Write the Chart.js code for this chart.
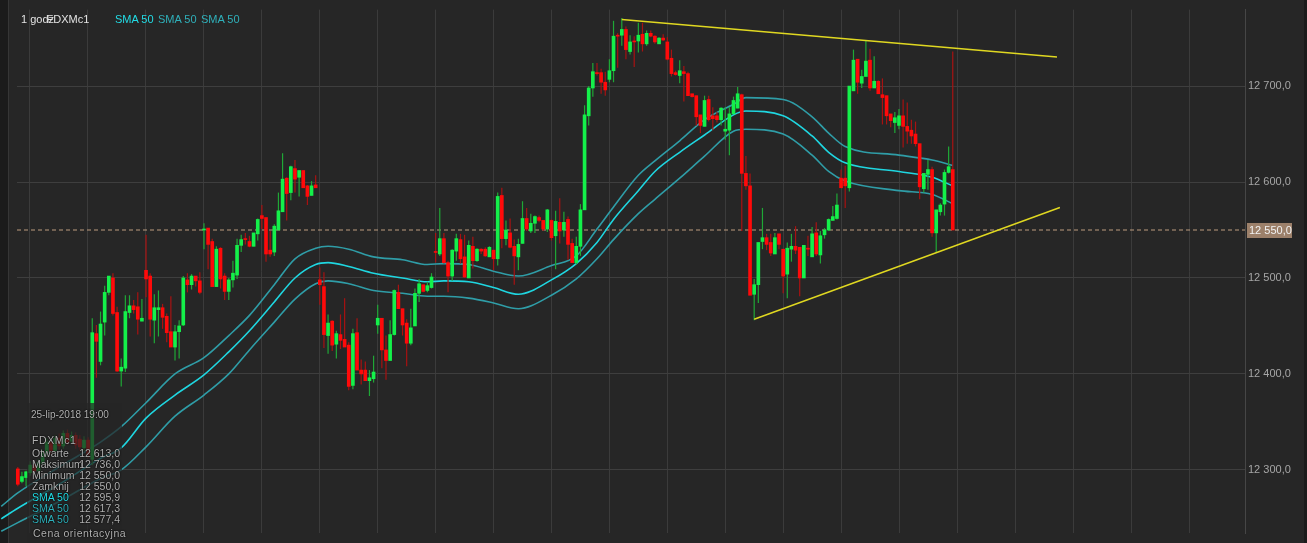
<!DOCTYPE html>
<html>
<head>
<meta charset="utf-8">
<script src="https://cdn.jsdelivr.net/npm/chart.js@4.4.1/dist/chart.umd.min.js"></script>
<style>
  html, body { margin: 0; padding: 0; background: #262626; overflow: hidden; }
  #wrap { position: relative; width: 1307px; height: 543px; background: #262626; }
  #chart { position: absolute; left: 0; top: 0; }
  .stripL { position: absolute; left: 0; top: 0; width: 8px; height: 543px; background: #1b1b1b; border-right: 1px solid #363636; }
  .stripR { position: absolute; left: 1304px; top: 0; width: 3px; height: 543px; background: #1b1b1b; }
  .txt { position: absolute; font-family: "Liberation Sans", Arial, sans-serif; font-size: 10.5px; line-height: 12px; white-space: nowrap; color: #b2b2b2; text-shadow: 0 0 2px #000, 0 0 1px #000; }
  .val { text-align: right; width: 50px; }
  #infoBox { position: absolute; left: 27px; top: 403px; width: 95px; height: 140px; background: rgba(38, 38, 38, 0.72); }
</style>
</head>
<body>
<div id="wrap">
  <div class="stripL"></div>
  <div class="stripR"></div>
  <canvas id="chart" width="1307" height="543"></canvas>
  <div id="infoBox"></div>

  <div class="txt" style="left:21px;top:13px;font-size:11px;color:#e2e2e2;text-shadow:none">1 godz</div>
  <div class="txt" style="left:46.5px;top:13px;font-size:11px;color:#e2e2e2;text-shadow:none">FDXMc1</div>
  <div class="txt" style="left:115px;top:13px;font-size:11px;color:#22dde6;text-shadow:none">SMA 50</div>
  <div class="txt" style="left:158px;top:13px;font-size:11px;color:#2fb0ba;text-shadow:none">SMA 50</div>
  <div class="txt" style="left:201px;top:13px;font-size:11px;color:#2fb0ba;text-shadow:none">SMA 50</div>

  <div class="txt" style="left:31px;top:409px;font-size:10px">25-lip-2018 19:00</div>
  <div class="txt" style="left:32px;top:434px;letter-spacing:0.6px">FDXMc1</div>
  <div id="rows"></div>
</div>

<script>
// candles, 1h bars, index 0 = first visible bar
const open = [
  12301,12288,12292,12297,12305,12299,12307,12317,12329,12320,
  12333,12325,12338,12330,12336,12332,12323,12331,12311,12442,
  12413,12454,12485,12500,12464,12403,12406,12464,12471,12470,
  12455,12508,12502,12456,12467,12469,12460,12444,12428,12444,
  12451,12498,12493,12502,12497,12550,12552,12538,12491,12531,
  12502,12486,12498,12503,12534,12541,12538,12533,12546,12565,
  12563,12529,12527,12550,12569,12604,12589,12614,12605,12612,
  12596,12586,12597,12498,12491,12440,12455,12431,12441,12436,
  12430,12388,12443,12404,12404,12393,12395,12451,12458,12425,
  12414,12441,12485,12468,12453,12432,12450,12484,12493,12487,
  12490,12527.3,12525,12541,12516,12502,12528,12540,12522,12500,
  12533,12518,12530,12530,12522,12529,12520,12586,12541,12547,
  12533,12522,12536,12562,12549,12557,12563,12560,12551,12560,
  12544,12558,12550,12561,12536,12516,12533,12571,12669,12698,
  12714,12714,12704,12707,12716,12753,12753,12759,12736,12747,
  12747,12754,12744,12755,12752,12744,12750,12746,12729,12714,
  12711,12715,12713,12692,12690,12670,12658,12686,12669,12669,
  12665,12653,12654,12671,12677,12691,12609,12596,12483,12493,
  12538,12542,12537,12525,12546,12530,12504,12530,12533,12532,
  12500,12531,12522,12547,12524,12545,12550,12560,12562,12604,
  12604,12594,12695,12728,12703,12710,12727,12698,12705,12691,
  12690,12671,12662,12659,12669,12658,12654,12650,12640,12593,
  12608,12613,12547,12569,12577,12610,12613
];
const high = [
  12303,12298,12299,12309,12308,12311,12321,12333,12333,12336,
  12338,12341,12342,12340,12339,12336,12335,12334,12458,12451,
  12465,12492,12502,12505,12470,12416,12482,12482,12477,12485,
  12478,12545,12505,12483,12487,12473,12463,12481,12451,12456,
  12502,12505,12504,12502,12506,12557,12552,12541,12533,12532,
  12505,12500,12518,12541,12545,12547,12544,12547,12562,12576,
  12563,12549,12556,12589,12630,12605,12617,12623,12612,12612,
  12597,12601,12607,12511,12506,12462,12456,12445,12462,12479,
  12433,12447,12458,12415,12413,12404,12419,12472,12458,12440,
  12456,12488,12493,12468,12457,12468,12489,12499,12493,12496,
  12505,12547,12573,12547,12518,12530,12546,12546,12545,12539,
  12543,12531,12531,12532,12533,12529,12589,12594,12560,12562,
  12540,12541,12580,12573,12567,12565,12565,12560,12572,12561,
  12570,12583,12569,12564,12541,12543,12577,12680,12700,12724,
  12724,12718,12715,12728,12768,12755,12771,12762,12753,12752,
  12766,12766,12758,12758,12753,12751,12754,12751,12738,12716,
  12727,12721,12715,12692,12690,12670,12690,12690,12678,12673,
  12678,12678,12678,12689,12699,12692,12627,12609,12499,12537,
  12573,12546,12546,12547,12546,12530,12537,12546,12554,12532,
  12534,12544,12553,12558,12549,12552,12562,12575,12588,12613,
  12617,12700,12738,12728,12717,12747,12739,12731,12706,12708,
  12690,12671,12673,12676,12686,12683,12665,12663,12640,12609,
  12623,12616,12571,12578,12613,12637,12736
];
const low = [
  12283,12286,12283,12294,12296,12297,12305,12314,12316,12318,
  12321,12322,12326,12327,12322,12320,12320,12312,12305,12396,
  12409,12440,12482,12461,12402,12387,12402,12458,12463,12441,
  12455,12480,12439,12432,12439,12447,12433,12428,12414,12416,
  12450,12485,12488,12491,12483,12530,12509,12491,12491,12489,
  12477,12477,12490,12499,12527,12535,12532,12533,12539,12551,
  12517,12522,12523,12550,12569,12560,12581,12589,12585,12594,
  12576,12586,12594,12472,12427,12421,12424,12416,12426,12428,
  12383,12384,12404,12389,12393,12377,12391,12442,12406,12394,
  12414,12440,12468,12440,12408,12430,12450,12475,12485,12485,
  12489,12516,12523,12515,12485,12497,12518,12515,12500,12500,
  12510,12517,12525,12522,12522,12508,12513,12531,12534,12531,
  12493,12508,12536,12549,12547,12547,12558,12549,12548,12539,
  12509,12536,12543,12519,12516,12514,12523,12571,12659,12689,
  12711,12692,12690,12704,12704,12719,12742,12728,12733,12720,
  12735,12736,12742,12751,12744,12744,12747,12727,12710,12711,
  12703,12684,12690,12688,12659,12651,12658,12663,12654,12662,
  12659,12644,12628,12671,12677,12549,12592,12482,12456,12474,
  12530,12529,12523,12525,12530,12484,12479,12517,12525,12481,
  12500,12523,12522,12523,12515,12541,12549,12560,12561,12594,
  12573,12590,12695,12692,12698,12710,12695,12698,12692,12660,
  12660,12657,12651,12655,12636,12640,12640,12637,12582,12589,
  12592,12543,12526,12565,12565,12609,12550
];
const close = [
  12285,12293,12298,12305,12299,12308,12318,12329,12320,12333,
  12325,12338,12329,12336,12326,12324,12331,12316,12443,12434,
  12452,12485,12502,12463,12403,12407,12465,12471,12467,12457,
  12458,12499,12457,12469,12469,12459,12443,12428,12444,12450,
  12500,12493,12502,12497,12485,12551,12535,12491,12530,12499,
  12486,12498,12505,12534,12540,12540,12533,12547,12561,12562,
  12525,12525,12554,12570,12603,12588,12616,12603,12612,12594,
  12585,12596,12594,12493,12441,12453,12430,12442,12435,12428,
  12387,12442,12404,12400,12393,12396,12402,12458,12425,12414,
  12441,12487,12468,12451,12432,12448,12484,12494,12486,12492,
  12501,12526.6,12541,12516,12502,12529,12541,12520,12501,12534,
  12518,12530,12528,12523,12532,12520,12585,12541,12550,12532,
  12523,12535,12562,12551,12557,12564,12560,12551,12571,12542,
  12559,12549,12558,12535,12516,12533,12571,12670,12698,12715,
  12713,12704,12696,12716,12752,12752,12759,12738,12746,12746,
  12753,12744,12755,12752,12746,12750,12748,12728,12713,12712,
  12716,12713,12690,12689,12668,12659,12685,12665,12666,12665,
  12677,12655,12671,12685,12692,12609,12596,12482,12493,12537,
  12542,12535,12526,12542,12535,12502,12531,12533,12529,12500,
  12534,12530,12546,12525,12544,12550,12561,12564,12576,12594,
  12596,12700,12727,12704,12710,12726,12698,12705,12692,12688,
  12669,12664,12667,12669,12658,12653,12648,12640,12595,12609,
  12613,12547,12571,12576,12610,12616,12550
];

// SMA 50 with its two envelope lines, read at these bar indices
const smaIdx   = [-4, 0, 10, 20, 25, 31, 38, 45, 51, 56, 62, 67, 72, 75, 80, 86, 93, 99, 103, 109, 115, 121, 129, 135, 140, 144, 150, 154, 160, 166, 173, 176, 185, 192, 196, 200, 213, 221, 226];
const smaUpper = [12262, 12276, 12303, 12329, 12345, 12370, 12400, 12417, 12440, 12461, 12493, 12520, 12531, 12533, 12530, 12522, 12519, 12514, 12515, 12514, 12507, 12502, 12513, 12523, 12551, 12574, 12607, 12622, 12643, 12665, 12681, 12688, 12686, 12668, 12651, 12637, 12628, 12623, 12617.3];
const smaMid   = [12249, 12260, 12285, 12312, 12323, 12354, 12378, 12399, 12423, 12445, 12475, 12500, 12514, 12516, 12512, 12505, 12500, 12496, 12497, 12496, 12490, 12483, 12498, 12515, 12537, 12561, 12591, 12611, 12631, 12649, 12670, 12674, 12669, 12648, 12631, 12620, 12611, 12605, 12595.9];
const smaLower = [12236, 12245, 12267, 12291, 12300, 12324, 12356, 12378, 12400, 12425, 12454, 12478, 12494, 12497, 12494, 12487, 12484, 12481, 12481, 12479, 12474, 12468, 12482, 12499, 12520, 12540, 12567, 12582, 12604, 12627, 12653, 12655, 12650, 12628, 12611, 12601, 12591, 12587, 12577.4];

// hand-drawn trend lines (bar index, price)
const trendTopIdx = [146, 251.2];
const trendTopVal = [12769.4, 12730.2];
const trendBotIdx = [178, 251.9];
const trendBotVal = [12457, 12573.5];

const yTicks = [12300, 12400, 12500, 12600, 12700];

const last = close.length - 1;
const lastPrice = close[last];

function fmt(v) {
  const p = v.toFixed(1).split('.');
  return p[0].replace(/\B(?=(\d{3})+(?!\d))/g, ' ') + ',' + p[1];
}

// info box rows (left bottom)
const rows = [
  ['Otwarte', open[last], '#b2b2b2'],
  ['Maksimum', high[last], '#b2b2b2'],
  ['Minimum', low[last], '#b2b2b2'],
  ['Zamknij', close[last], '#b2b2b2'],
  ['SMA 50', smaMid[smaMid.length - 1], '#22dde6'],
  ['SMA 50', smaUpper[smaUpper.length - 1], '#2fb0ba'],
  ['SMA 50', smaLower[smaLower.length - 1], '#2fb0ba'],
];
let html = '';
rows.forEach((r, k) => {
  const top = 447 + k * 11;
  html += `<div class="txt" style="left:32px;top:${top}px;color:${r[2]}">${r[0]}</div>`;
  html += `<div class="txt val" style="left:70px;top:${top}px;color:#b2b2b2">${fmt(r[1])}</div>`;
});
html += `<div class="txt" style="left:33px;top:527px;letter-spacing:0.5px">Cena orientacyjna</div>`;
document.getElementById('rows').innerHTML = html;

const up = close.map((c, i) => c >= open[i]);
const wickData = close.map((c, i) => ({ x: i, y: [low[i], high[i]] }));
const bodyData = close.map((c, i) => ({ x: i, y: [open[i], c] }));

const toPts = (xs, ys) => xs.map((x, k) => ({ x: x, y: ys[k] }));

// x: bar index; x0 = 17.8px, 4.137px per bar
const xMin = -0.193;
const xMax = 296.64;

const priceTag = {
  id: 'priceTag',
  afterDraw(chart) {
    const { ctx, chartArea, scales } = chart;
    const y = Math.round(scales.y.getPixelForValue(lastPrice));
    ctx.save();
    ctx.fillStyle = '#9c806a';
    ctx.fillRect(chartArea.right + 2, y - 7, 45, 15);
    ctx.fillStyle = '#f2f2f2';
    ctx.font = '11px "Liberation Sans", Arial';
    ctx.textBaseline = 'middle';
    ctx.fillText(fmt(lastPrice), chartArea.right + 4, y + 1);
    ctx.restore();
  }
};

new Chart(document.getElementById('chart'), {
  type: 'bar',
  data: {
    datasets: [
      {
        type: 'line',
        data: [{ x: xMin, y: lastPrice }, { x: xMax, y: lastPrice }],
        borderColor: '#bd9c7e',
        borderWidth: 1,
        borderDash: [4, 3],
        pointRadius: 0,
        order: 5,
      },
      {
        type: 'line',
        data: toPts(smaIdx, smaUpper),
        borderColor: '#2f9da7',
        borderWidth: 1.6,
        pointRadius: 0,
        cubicInterpolationMode: 'monotone',
        clip: false,
        order: 4,
      },
      {
        type: 'line',
        data: toPts(smaIdx, smaMid),
        borderColor: '#1fd6e0',
        borderWidth: 1.6,
        pointRadius: 0,
        cubicInterpolationMode: 'monotone',
        clip: false,
        order: 4,
      },
      {
        type: 'line',
        data: toPts(smaIdx, smaLower),
        borderColor: '#2f9da7',
        borderWidth: 1.6,
        pointRadius: 0,
        cubicInterpolationMode: 'monotone',
        clip: false,
        order: 4,
      },
      {
        data: wickData,
        backgroundColor: up.map(u => u ? '#1fa836' : '#a81212'),
        barThickness: 1.2,
        inflateAmount: 0,
        grouped: false,
        clip: false,
        order: 3,
      },
      {
        data: bodyData,
        backgroundColor: up.map(u => u ? '#14f04a' : '#ff0a0a'),
        barThickness: 3,
        minBarLength: 1,
        grouped: false,
        clip: false,
        order: 2,
      },
      {
        type: 'line',
        data: toPts(trendTopIdx, trendTopVal),
        borderColor: '#e0d821',
        borderWidth: 1.5,
        pointRadius: 0,
        clip: false,
        order: 1,
      },
      {
        type: 'line',
        data: toPts(trendBotIdx, trendBotVal),
        borderColor: '#e0d821',
        borderWidth: 1.5,
        pointRadius: 0,
        clip: false,
        order: 1,
      },
    ],
  },
  options: {
    responsive: false,
    animation: false,
    devicePixelRatio: 1,
    layout: { padding: { left: 17, top: 8, right: 2, bottom: 6 } },
    plugins: {
      legend: { display: false },
      tooltip: { enabled: false },
    },
    scales: {
      x: {
        type: 'linear',
        min: xMin,
        max: xMax,
        offset: false,
        afterFit: (s) => { s.height = 0; },
        afterBuildTicks: (s) => {
          // vertical grid every ~14 bars
          const t = [];
          for (let k = 0; k <= 20; k++) t.push({ value: 2.71 + k * 14.02 });
          s.ticks = t;
        },
        ticks: { display: false },
        grid: { color: '#3b3b3b', lineWidth: 1, drawTicks: false, offset: false },
        border: { display: false },
      },
      y: {
        position: 'right',
        min: 12233.8,
        max: 12779.7,
        afterFit: (s) => { s.width = 60; },
        afterBuildTicks: (s) => { s.ticks = yTicks.map(v => ({ value: v })); },
        ticks: {
          color: '#a6a6a6',
          padding: 3,
          font: { family: '"Liberation Sans", Arial', size: 11 },
          callback: (v) => fmt(v),
        },
        grid: { color: '#3e3e3e', lineWidth: 1, drawTicks: false },
        border: { display: true, color: '#464646' },
      },
    },
  },
  plugins: [priceTag],
});
</script>
</body>
</html>
